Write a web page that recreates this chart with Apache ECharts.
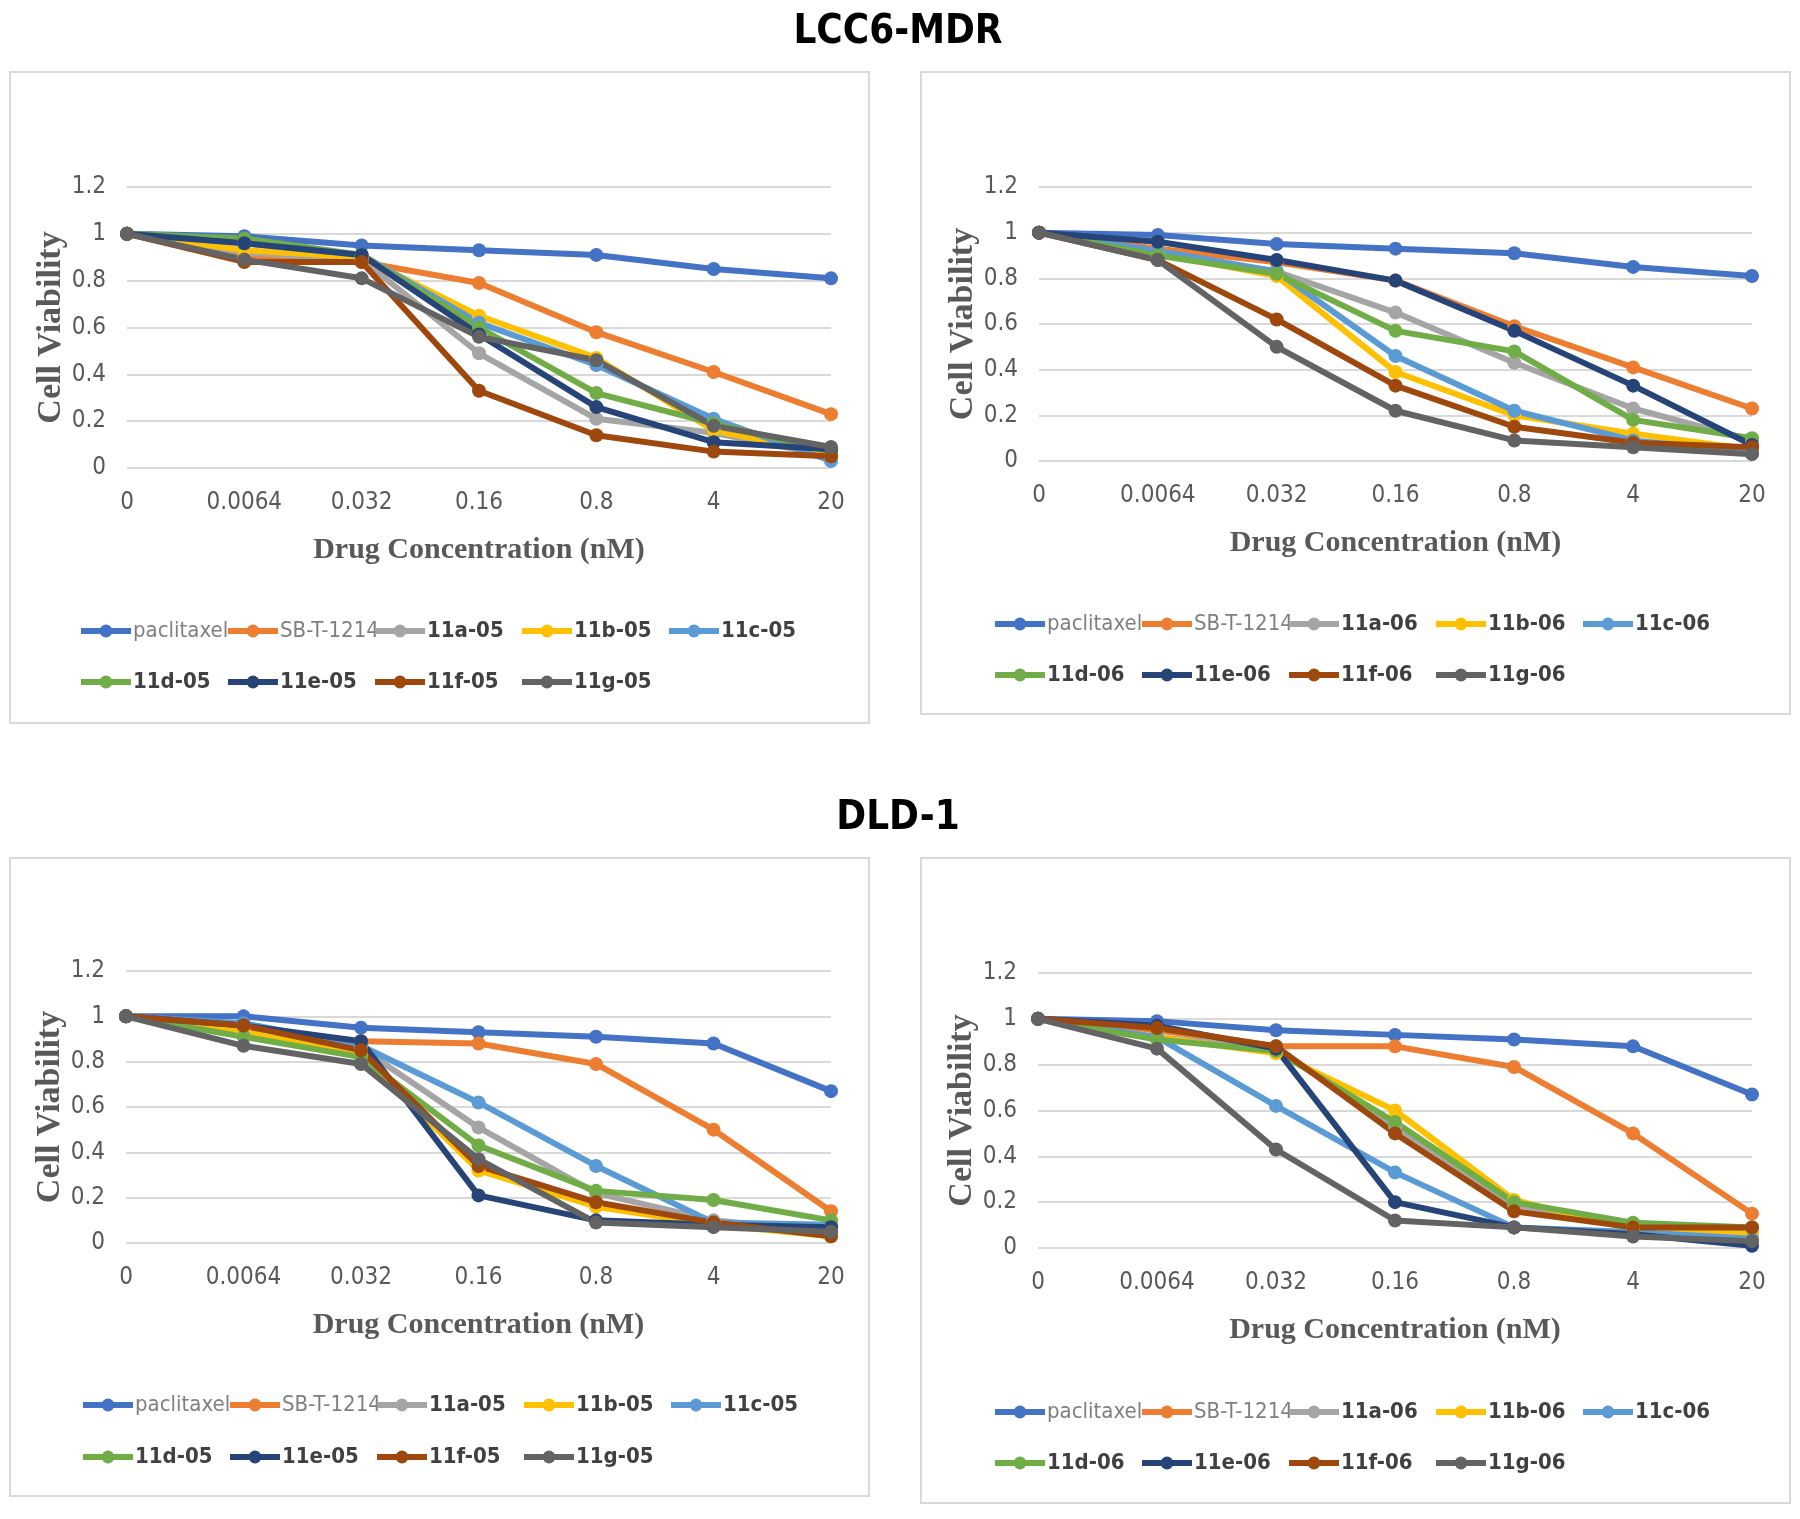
<!DOCTYPE html>
<html>
<head>
<meta charset="utf-8">
<script src="https://cdn.jsdelivr.net/npm/echarts@6/dist/echarts.min.js"></script>
<style>
  html, body { margin: 0; padding: 0; background: #fff; }
  #main { width: 1800px; height: 1519px; }
</style>
</head>
<body>
<div id="main"></div>
<script>
var categories = ['0', '0.0064', '0.032', '0.16', '0.8', '4', '20'];
var yTicks = [0, 0.2, 0.4, 0.6, 0.8, 1, 1.2];
var names05 = ['paclitaxel', 'SB-T-1214', '11a-05', '11b-05', '11c-05', '11d-05', '11e-05', '11f-05', '11g-05'];
var names06 = ['paclitaxel', 'SB-T-1214', '11a-06', '11b-06', '11c-06', '11d-06', '11e-06', '11f-06', '11g-06'];
var colors = ['#4472C4', '#ED7D31', '#A5A5A5', '#FFC000', '#5B9BD5', '#70AD47', '#264478', '#9E480E', '#636363'];

// LCC6-MDR, 05 series (top left)
var lcc05 = [
  [1, 0.99, 0.95, 0.93, 0.91, 0.85, 0.81],
  [1, 0.90, 0.88, 0.79, 0.58, 0.41, 0.23],
  [1, 0.92, 0.89, 0.49, 0.21, 0.15, 0.05],
  [1, 0.93, 0.90, 0.65, 0.47, 0.16, 0.06],
  [1, 0.96, 0.91, 0.62, 0.44, 0.21, 0.03],
  [1, 0.98, 0.91, 0.60, 0.32, 0.19, 0.07],
  [1, 0.96, 0.91, 0.57, 0.26, 0.11, 0.08],
  [1, 0.88, 0.88, 0.33, 0.14, 0.07, 0.05],
  [1, 0.89, 0.81, 0.56, 0.46, 0.18, 0.09]
];
// LCC6-MDR, 06 series (top right)
var lcc06 = [
  [1, 0.99, 0.95, 0.93, 0.91, 0.85, 0.81],
  [1, 0.93, 0.87, 0.79, 0.59, 0.41, 0.23],
  [1, 0.91, 0.83, 0.65, 0.43, 0.23, 0.09],
  [1, 0.91, 0.81, 0.39, 0.20, 0.12, 0.05],
  [1, 0.92, 0.83, 0.46, 0.22, 0.09, 0.04],
  [1, 0.90, 0.82, 0.57, 0.48, 0.18, 0.10],
  [1, 0.96, 0.88, 0.79, 0.57, 0.33, 0.07],
  [1, 0.88, 0.62, 0.33, 0.15, 0.08, 0.06],
  [1, 0.88, 0.50, 0.22, 0.09, 0.06, 0.03]
];
// DLD-1, 05 series (bottom left)
var dld05 = [
  [1, 1.00, 0.95, 0.93, 0.91, 0.88, 0.67],
  [1, 0.95, 0.89, 0.88, 0.79, 0.50, 0.14],
  [1, 0.92, 0.86, 0.51, 0.22, 0.10, 0.05],
  [1, 0.93, 0.83, 0.32, 0.16, 0.08, 0.03],
  [1, 0.97, 0.87, 0.62, 0.34, 0.09, 0.08],
  [1, 0.91, 0.82, 0.43, 0.23, 0.19, 0.10],
  [1, 0.96, 0.89, 0.21, 0.10, 0.08, 0.07],
  [1, 0.96, 0.85, 0.34, 0.18, 0.09, 0.03],
  [1, 0.87, 0.79, 0.37, 0.09, 0.07, 0.05]
];
// DLD-1, 06 series (bottom right)
var dld06 = [
  [1, 0.99, 0.95, 0.93, 0.91, 0.88, 0.67],
  [1, 0.95, 0.88, 0.88, 0.79, 0.50, 0.15],
  [1, 0.92, 0.87, 0.53, 0.19, 0.10, 0.07],
  [1, 0.92, 0.85, 0.60, 0.21, 0.08, 0.06],
  [1, 0.92, 0.62, 0.33, 0.09, 0.07, 0.04],
  [1, 0.91, 0.86, 0.55, 0.20, 0.11, 0.09],
  [1, 0.97, 0.87, 0.20, 0.09, 0.06, 0.01],
  [1, 0.96, 0.88, 0.50, 0.16, 0.09, 0.09],
  [1, 0.87, 0.43, 0.12, 0.09, 0.05, 0.03]
];

var narrow = '"Liberation Sans Narrow", "DejaVu Sans Condensed", "Liberation Sans", sans-serif';
var serif = '"Liberation Serif", "DejaVu Serif", serif';

// panel layout (pixels)
var panels = [
  { box: [10, 72, 859, 651], grid: [127, 187, 704, 281], leg: [78, 620, 671], names: names05, data: lcc05 },
  { box: [921, 72, 869, 642], grid: [1039, 187, 713, 274], leg: [992, 613, 664], names: names06, data: lcc06 },
  { box: [10, 858, 859, 638], grid: [126, 971, 705, 272], leg: [80, 1394, 1446], names: names05, data: dld05 },
  { box: [921, 858, 869, 645], grid: [1038, 973, 714, 275], leg: [992, 1401, 1452], names: names06, data: dld06 }
];
var legendPitch = 147;

var chart = echarts.init(document.getElementById('main'));

var grids = [], xAxes = [], yAxes = [], series = [], legends = [], graphics = [];

panels.forEach(function (p, i) {
  graphics.push({
    type: 'rect', z: -1,
    shape: { x: p.box[0], y: p.box[1], width: p.box[2], height: p.box[3] },
    style: { fill: '#fff', stroke: '#d9d9d9', lineWidth: 2 }
  });
  grids.push({ left: p.grid[0], top: p.grid[1], width: p.grid[2], height: p.grid[3] });
  xAxes.push({
    type: 'category', gridIndex: i, data: categories, boundaryGap: false,
    axisLine: { show: false }, axisTick: { show: false },
    axisLabel: { margin: 23, color: '#595959', fontSize: 24, fontFamily: narrow },
    name: 'Drug Concentration (nM)', nameLocation: 'middle', nameGap: 67,
    nameTextStyle: { fontFamily: serif, fontWeight: 'bold', fontSize: 30, color: '#595959' }
  });
  yAxes.push({
    type: 'value', gridIndex: i, min: yTicks[0], max: yTicks[yTicks.length - 1], interval: 0.2,
    axisLine: { show: false }, axisTick: { show: false },
    axisLabel: { margin: 21, color: '#595959', fontSize: 24, fontFamily: narrow },
    splitLine: { lineStyle: { color: '#d9d9d9', width: 2 } },
    name: 'Cell Viability', nameLocation: 'middle', nameGap: 52,
    nameTextStyle: { fontFamily: serif, fontWeight: 'bold', fontSize: 34, color: '#595959' }
  });
  p.names.forEach(function (n, k) {
    series.push({
      type: 'line', name: n, xAxisIndex: i, yAxisIndex: i,
      data: p.data[k], symbol: 'circle', symbolSize: 14,
      lineStyle: { width: 6, color: colors[k] },
      itemStyle: { color: colors[k] },
      silent: true
    });
    // one legend per entry so the columns line up like the original
    var plain = (n === 'paclitaxel' || n === 'SB-T-1214');
    legends.push({
      left: p.leg[0] + (k % 5) * legendPitch,
      top: k < 5 ? p.leg[1] : p.leg[2],
      padding: 0, itemWidth: 50, itemHeight: 16, selectedMode: false,
      lineStyle: { width: 6 },
      data: [n],
      textStyle: {
        fontFamily: narrow, fontSize: 22, padding: [0, 0, 0, -3],
        color: plain ? '#7f7f7f' : '#404040',
        fontWeight: plain ? 'normal' : 'bold'
      }
    });
  });
});

var option = {
  backgroundColor: '#fff',
  animation: false,
  color: colors,
  title: [
    { text: 'LCC6-MDR', left: 893, top: 8, textAlign: 'center',
      textStyle: { fontFamily: narrow, fontWeight: 'bold', fontSize: 40, color: '#000' } },
    { text: 'DLD-1', left: 893, top: 794, textAlign: 'center',
      textStyle: { fontFamily: narrow, fontWeight: 'bold', fontSize: 40, color: '#000' } }
  ],
  graphic: graphics,
  grid: grids,
  xAxis: xAxes,
  yAxis: yAxes,
  legend: legends,
  series: series
};

chart.setOption(option);
</script>
</body>
</html>
